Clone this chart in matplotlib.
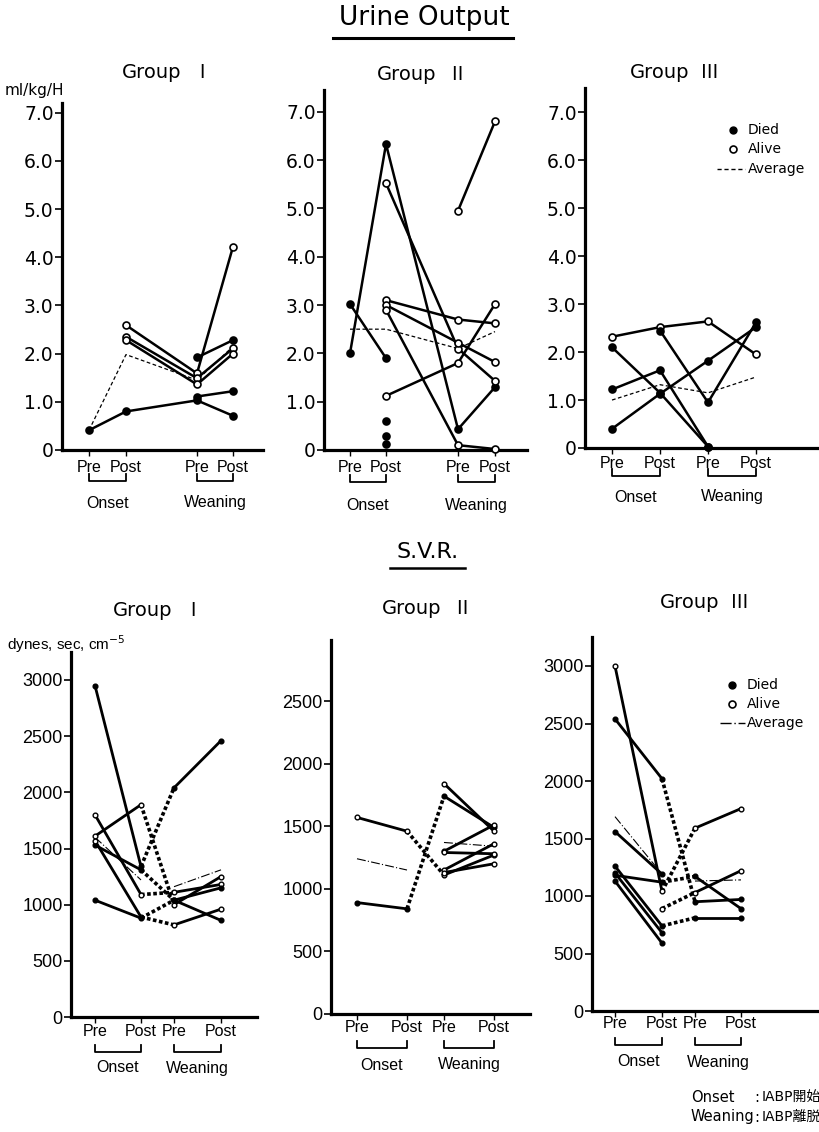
import numpy as np
import matplotlib
matplotlib.use("Agg")
import matplotlib.pyplot as plt
from matplotlib.lines import Line2D

nan = np.nan

STAGES = ["Pre", "Post", "Pre", "Post"]
PHASES = ["Onset", "Weaning"]
GROUPS = ["Ⅰ", "Ⅱ", "Ⅲ"]

# --- Urine output (ml/kg/H): onset pre/post, weaning pre/post ---
urine_g1 = [[0.41, 0.80, 1.03, 0.71],
            [nan, nan, 1.11, 1.22],
            [nan, 2.59, 1.59, 4.22],
            [nan, 2.35, 1.49, 2.11],
            [nan, 2.28, 1.36, 2.00],
            [nan, nan, 1.92, 2.28]]
urine_g1_died = [1, 1, 0, 0, 0, 1]
urine_g1_avg = [0.41, 1.98, 1.45, 2.15]

urine_g2 = [[2.00, 6.33, 0.43, 1.30],
            [3.02, 1.90, nan, nan],
            [nan, 5.52, 2.10, 1.43],
            [nan, 3.10, 2.70, 2.62],
            [nan, 3.00, 2.22, 1.82],
            [nan, 2.90, 0.10, 0.02],
            [nan, 1.12, 1.80, 3.02],
            [nan, nan, 4.95, 6.80],
            [nan, 0.60, nan, nan],
            [nan, 0.30, nan, nan],
            [nan, 0.12, nan, nan]]
urine_g2_died = [1, 1, 0, 0, 0, 0, 0, 0, 1, 1, 1]
urine_g2_avg = [2.50, 2.50, 2.10, 2.45]

urine_g3 = [[2.32, 2.52, 2.64, 1.95],
            [nan, 2.45, 0.95, 2.62],
            [2.10, 1.15, 0.03, nan],
            [1.22, 1.62, 0.03, nan],
            [0.40, 1.13, 1.82, 2.52]]
urine_g3_died = [0, 1, 1, 1, 1]
urine_g3_avg = [1.00, 1.32, 1.15, 1.48]

# --- S.V.R. (dynes, sec, cm-5) ---
svr_g1 = [[2950, 1340, 2040, 2460],
          [1610, 1890, 1000, 1250],
          [1800, 1090, 1110, 1180],
          [1530, 1310, 1040, 860],
          [1570, 890, 820, 960],
          [1040, 880, 1040, 1150]]
svr_g1_died = [1, 0, 0, 1, 0, 1]
svr_g1_avg = [1600, 1220, 1160, 1310]

svr_g2 = [[1570, 1460, 1110, 1270],
          [890, 840, 1740, 1490],
          [nan, nan, 1840, 1460],
          [nan, nan, 1300, 1510],
          [nan, nan, 1290, 1280],
          [nan, nan, 1150, 1360],
          [nan, nan, 1130, 1200]]
svr_g2_died = [0, 1, 0, 0, 0, 0, 0]
svr_g2_avg = [1240, 1150, 1370, 1340]

svr_g3 = [[3000, 1040, 1590, 1760],
          [2540, 2020, 950, 970],
          [1560, 1190, nan, nan],
          [1260, 740, 810, 810],
          [1200, 680, nan, nan],
          [1130, 590, nan, nan],
          [1180, 1120, 1170, 890],
          [nan, 890, 1030, 1220]]
svr_g3_died = [0, 1, 1, 1, 1, 1, 1, 0]
svr_g3_avg = [1690, 1190, 1130, 1140]

urine_ticks = [0, 1, 2, 3, 4, 5, 6, 7]
urine_ticklabels = ["0", "1.0", "2.0", "3.0", "4.0", "5.0", "6.0", "7.0"]
svr_ticks = [0, 500, 1000, 1500, 2000, 2500, 3000]

NARROW = "Liberation Sans"
MIXED = ["DejaVu Sans", "Noto Sans CJK JP"]
ROMAN = ["Noto Sans CJK JP", "DejaVu Sans"]

W, H = 819, 1132
fig = plt.figure(figsize=(W / 100, H / 100), dpi=100)


def fx(x):
    return x / W


def fy(y):
    return 1 - y / H


def fig_line(xs, ys, **kw):
    kw.setdefault("color", "k")
    fig.add_artist(Line2D([fx(x) for x in xs], [fy(y) for y in ys],
                          transform=fig.transFigure, **kw))


def fig_text(x, y, s, **kw):
    kw.setdefault("ha", "center")
    kw.setdefault("va", "center")
    fig.text(fx(x), fy(y), s, **kw)


# panel layout in pixels
TOP = [dict(x0=62, x1=263, ybot=450, ytop=103, ref=(7.0, 112.7), xs=[89, 126, 197, 233],
            lab_y=467, brk_y=481, ph_y=503, title=(122, 73)),
       dict(x0=324, x1=527, ybot=450, ytop=90, ref=(7.0, 111.7), xs=[350, 386, 458, 495],
            lab_y=467, brk_y=482, ph_y=505, title=(377, 75)),
       dict(x0=585, x1=819, ybot=448, ytop=88, ref=(7.0, 112.3), xs=[612, 660, 708, 756],
            lab_y=463, brk_y=476, ph_y=497, title=(630, 73))]
BOTTOM = [dict(x0=71, x1=257, ybot=1017, ytop=652, ref=(3000, 680), xs=[95, 141, 174, 221],
               lab_y=1032, brk_y=1052, ph_y=1068, title=(113, 610)),
          dict(x0=331, x1=530, ybot=1014, ytop=640, ref=(2500, 701), xs=[357, 407, 444, 494],
               lab_y=1028, brk_y=1048, ph_y=1065, title=(382, 608)),
          dict(x0=592, x1=819, ybot=1011, ytop=637, ref=(3000, 666), xs=[615, 662, 695, 741],
               lab_y=1024, brk_y=1045, ph_y=1062, title=(660, 603))]


def panel(p, group, values, died, avg, svr):
    ref_v, ref_px = p["ref"]
    ymax = ref_v * (p["ybot"] - p["ytop"]) / (p["ybot"] - ref_px)
    ax = fig.add_axes([fx(p["x0"]), fy(p["ybot"]), fx(p["x1"]) - fx(p["x0"]),
                       (p["ybot"] - p["ytop"]) / H])
    ax.set_xlim(p["x0"], p["x1"])
    ax.set_ylim(0, ymax)
    ax.patch.set_alpha(0)
    for s in ["top", "right"]:
        ax.spines[s].set_visible(False)
    for s in ["left", "bottom"]:
        ax.spines[s].set_linewidth(2.3)
    if svr:
        ticks = [t for t in svr_ticks if t <= ymax]
        ax.set_yticks(ticks, [str(t) for t in ticks], fontfamily=NARROW, fontsize=13)
    else:
        ax.set_yticks(urine_ticks, urine_ticklabels, fontsize=13.5)
    ax.set_xticks(p["xs"], [])
    ax.tick_params(axis="y", length=5, width=1.2, pad=1)
    ax.tick_params(axis="x", length=4, width=1.0)

    xs = np.array(p["xs"], float)
    for v, d in zip(values, died):
        v = np.array(v, float)
        face = "k" if d else "white"
        if svr:
            ax.plot(xs[:2], v[:2], "-", color="k", lw=2.0, clip_on=False)
            ax.plot(xs[1:3], v[1:3], color="k", lw=2.6, ls=(0, (1.0, 0.7)), clip_on=False)
            ax.plot(xs[2:], v[2:], "-", color="k", lw=2.0, clip_on=False)
            ax.plot(xs, v, "o", ms=3.4, mfc=face, mec="k", mew=1.0, ls="none",
                    zorder=3, clip_on=False)
        else:
            ax.plot(xs, v, "-o", color="k", lw=1.8, ms=5, mfc=face, mec="k",
                    mew=1.2, clip_on=False, zorder=3)
    avg = np.array(avg, float)
    if svr:
        ax.plot(xs[:2], avg[:2], color="k", lw=0.8, ls=(0, (8, 2, 1, 2)))
        ax.plot(xs[2:], avg[2:], color="k", lw=0.8, ls=(0, (8, 2, 1, 2)))
    else:
        ax.plot(xs, avg, color="k", lw=0.9, ls=(0, (3, 2)))

    # x labels and phase brackets
    for x, s in zip(p["xs"], STAGES):
        fig_text(x, p["lab_y"], s, fontfamily=NARROW, fontsize=11.5)
    for i, ph in enumerate(PHASES):
        xa, xb = p["xs"][2 * i], p["xs"][2 * i + 1]
        fig_line([xa, xa, xb, xb], [p["brk_y"] - 7, p["brk_y"], p["brk_y"], p["brk_y"] - 7], lw=1.3)
        fig_text((xa + xb) / 2, p["ph_y"], ph, fontfamily=NARROW, fontsize=11.5)
    tx, ty = p["title"]
    fig_text(tx, ty, "Group", ha="left", fontsize=14)
    fig_text(tx + 80, ty, group, ha="center", fontfamily=ROMAN, fontsize=14)
    return ax


panel(TOP[0], GROUPS[0], urine_g1, urine_g1_died, urine_g1_avg, False)
panel(TOP[1], GROUPS[1], urine_g2, urine_g2_died, urine_g2_avg, False)
panel(TOP[2], GROUPS[2], urine_g3, urine_g3_died, urine_g3_avg, False)
panel(BOTTOM[0], GROUPS[0], svr_g1, svr_g1_died, svr_g1_avg, True)
panel(BOTTOM[1], GROUPS[1], svr_g2, svr_g2_died, svr_g2_avg, True)
panel(BOTTOM[2], GROUPS[2], svr_g3, svr_g3_died, svr_g3_avg, True)

# section headings with underline
fig_text(424, 18, "Urine Output", fontsize=19)
fig_line([333, 513], [38, 38], lw=2.2)
fig_text(428, 552, "S.V.R.", fontsize=16)
fig_line([390, 465], [568, 568], lw=1.8)

# units
fig_text(5, 90, "ml/kg/H", ha="left", fontsize=11)
fig_text(7, 644, "dynes, sec, cm$^{-5}$", ha="left", fontfamily=NARROW, fontsize=11)

# legends
fig_line([733], [130], marker="o", ms=5, mfc="k", mec="k", ls="none")
fig_text(748, 130, "Died", ha="left", fontsize=10)
fig_line([733], [149], marker="o", ms=5, mfc="white", mec="k", mew=1.2, ls="none")
fig_text(748, 149, "Alive", ha="left", fontsize=10)
fig_line([717, 745], [169, 169], lw=1.0, ls=(0, (3, 2)))
fig_text(748, 169, "Average", ha="left", fontsize=10)

fig_line([732], [685], marker="o", ms=5, mfc="k", mec="k", ls="none")
fig_text(747, 685, "Died", ha="left", fontsize=10)
fig_line([732], [704], marker="o", ms=5, mfc="white", mec="k", mew=1.2, ls="none")
fig_text(747, 704, "Alive", ha="left", fontsize=10)
fig_line([720, 745], [723, 723], lw=1.0, ls=(0, (8, 2, 1, 2)))
fig_text(747, 723, "Average", ha="left", fontsize=10)

# note
fig_text(691, 1097, "Onset", ha="left", fontfamily=MIXED, fontsize=10.5)
fig_text(757, 1097, ":", ha="center", fontfamily=MIXED, fontsize=10.5)
fig_text(762, 1097, "IABP開始", ha="left", fontfamily=MIXED, fontsize=10)
fig_text(691, 1117, "Weaning", ha="left", fontfamily=MIXED, fontsize=10.5)
fig_text(757, 1117, ":", ha="center", fontfamily=MIXED, fontsize=10.5)
fig_text(762, 1117, "IABP離脱", ha="left", fontfamily=MIXED, fontsize=10)

fig.savefig("out.png", dpi=100, facecolor="white")
